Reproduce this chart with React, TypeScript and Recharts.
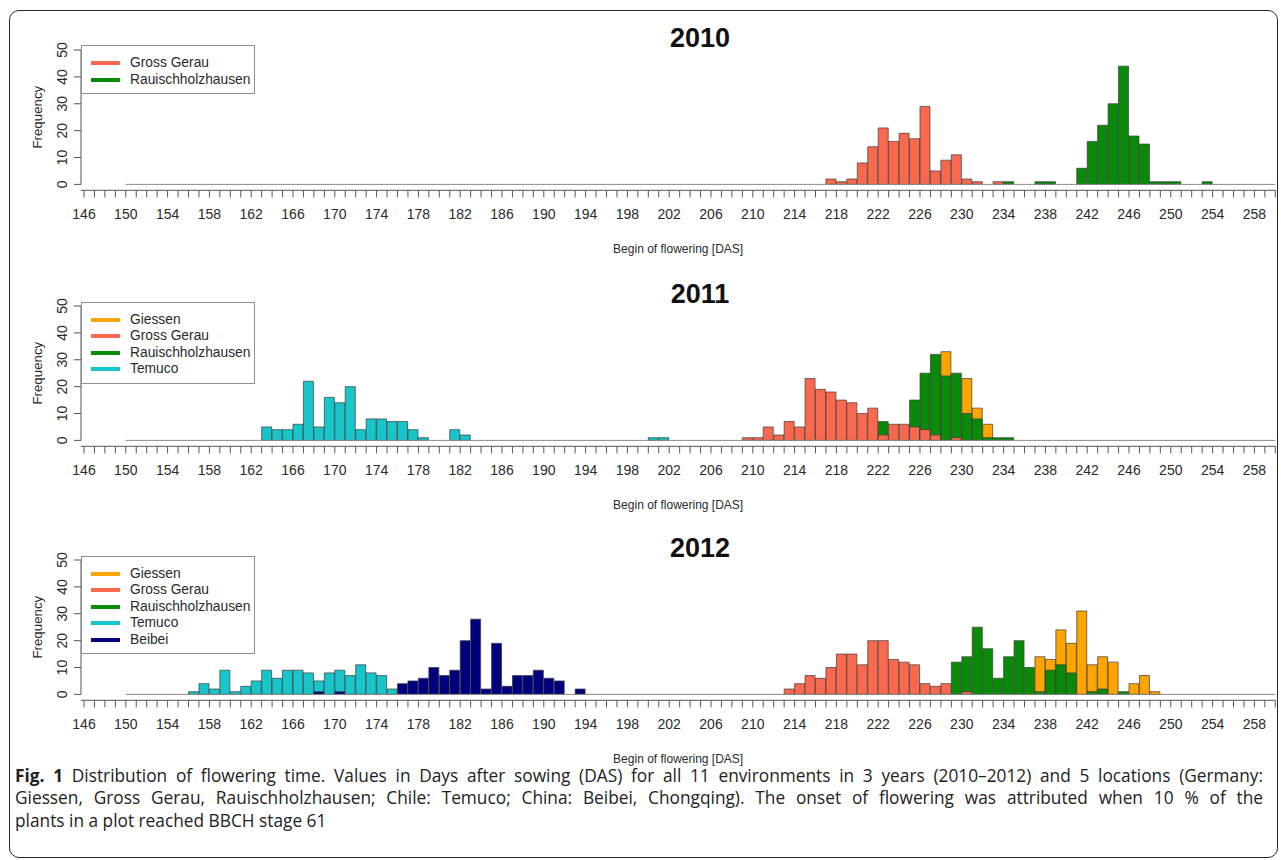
import React from 'react';
import { ComposedChart, Bar, XAxis, YAxis, ReferenceLine, Label } from 'recharts';

// Each histogram bin is [first day of the bin, number of plots]
type Bin = [number, number];

// 2010
const grossGerau2010: Bin[] = [[217, 2], [218, 1], [219, 2], [220, 8], [221, 14], [222, 21], [223, 16], [224, 19], [225, 17], [226, 29], [227, 5], [228, 9], [229, 11], [230, 2], [231, 1], [233, 1]];
const rauisch2010: Bin[] = [[234, 1], [237, 1], [238, 1], [241, 6], [242, 16], [243, 22], [244, 30], [245, 44], [246, 18], [247, 15], [248, 1], [249, 1], [250, 1], [253, 1]];

// 2011
const giessen2011: Bin[] = [[228, 33], [230, 23], [231, 12], [232, 6]];
const rauisch2011: Bin[] = [[222, 7], [225, 15], [226, 25], [227, 32], [228, 24], [229, 25], [230, 10], [231, 8], [232, 1], [233, 1], [234, 1]];
const grossGerau2011: Bin[] = [[209, 1], [210, 1], [211, 5], [212, 2], [213, 7], [214, 5], [215, 23], [216, 19], [217, 18], [218, 15], [219, 14], [220, 10], [221, 12], [222, 2], [223, 6], [224, 6], [225, 5], [226, 4], [227, 2], [229, 1]];
const temuco2011: Bin[] = [[163, 5], [164, 4], [165, 4], [166, 6], [167, 22], [168, 5], [169, 16], [170, 14], [171, 20], [172, 4], [173, 8], [174, 8], [175, 7], [176, 7], [177, 4], [178, 1], [181, 4], [182, 2], [200, 1], [201, 1]];

// 2012
const giessen2012: Bin[] = [[237, 14], [238, 13], [239, 24], [240, 19], [241, 31], [242, 11], [243, 14], [244, 12], [246, 4], [247, 7], [248, 1]];
const rauisch2012: Bin[] = [[229, 12], [230, 14], [231, 25], [232, 17], [233, 6], [234, 14], [235, 20], [236, 10], [237, 1], [238, 9], [239, 11], [240, 8], [242, 1], [243, 2], [245, 1]];
const grossGerau2012: Bin[] = [[213, 2], [214, 4], [215, 7], [216, 6], [217, 10], [218, 15], [219, 15], [220, 11], [221, 20], [222, 20], [223, 13], [224, 12], [225, 11], [226, 4], [227, 3], [228, 4], [230, 1]];
const temuco2012: Bin[] = [[156, 1], [157, 4], [158, 2], [159, 9], [160, 1], [161, 3], [162, 5], [163, 9], [164, 6], [165, 9], [166, 9], [167, 8], [168, 5], [169, 8], [170, 9], [171, 7], [172, 11], [173, 8], [174, 7], [175, 2]];
const beibei2012: Bin[] = [[168, 1], [170, 1], [176, 4], [177, 5], [178, 6], [179, 10], [180, 7], [181, 9], [182, 20], [183, 28], [184, 2], [185, 19], [186, 3], [187, 7], [188, 7], [189, 9], [190, 6], [191, 5], [193, 2]];

// Histogram breaks and axes
const FIRST_BIN = 150;
const LAST_BIN = 259;
const X_MIN = 145.713;
const X_MAX = 260;
const dayTicks: number[] = [];
for (let d = 146; d <= 260; d++) dayTicks.push(d);
const freqTicks = [0, 10, 20, 30, 40, 50];

type Loc = { key: string; name: string; color: string };
const GIESSEN: Loc = { key: 'giessen', name: 'Giessen', color: '#FFA500' };
const GROSS_GERAU: Loc = { key: 'grossGerau', name: 'Gross Gerau', color: '#FA694D' };
const RAUISCH: Loc = { key: 'rauisch', name: 'Rauischholzhausen', color: '#098B09' };
const TEMUCO: Loc = { key: 'temuco', name: 'Temuco', color: '#17C6CA' };
const BEIBEI: Loc = { key: 'beibei', name: 'Beibei', color: '#00007F' };

type Series = { loc: Loc; bins: Bin[] };
type PanelSpec = {
  year: string;
  plotTop: number;
  draw: Series[]; // drawing order (later ones on top)
  legend: Loc[];
};

const panels: PanelSpec[] = [
  {
    year: '2010',
    plotTop: 49.5,
    draw: [
      { loc: RAUISCH, bins: rauisch2010 },
      { loc: GROSS_GERAU, bins: grossGerau2010 },
    ],
    legend: [GROSS_GERAU, RAUISCH],
  },
  {
    year: '2011',
    plotTop: 306,
    draw: [
      { loc: GIESSEN, bins: giessen2011 },
      { loc: RAUISCH, bins: rauisch2011 },
      { loc: GROSS_GERAU, bins: grossGerau2011 },
      { loc: TEMUCO, bins: temuco2011 },
    ],
    legend: [GIESSEN, GROSS_GERAU, RAUISCH, TEMUCO],
  },
  {
    year: '2012',
    plotTop: 560,
    draw: [
      { loc: GIESSEN, bins: giessen2012 },
      { loc: RAUISCH, bins: rauisch2012 },
      { loc: GROSS_GERAU, bins: grossGerau2012 },
      { loc: TEMUCO, bins: temuco2012 },
      { loc: BEIBEI, bins: beibei2012 },
    ],
    legend: [GIESSEN, GROSS_GERAU, RAUISCH, TEMUCO, BEIBEI],
  },
];

const buildRows = (draw: Series[]) => {
  const rows: Record<string, number | null>[] = [];
  for (let d = FIRST_BIN; d <= LAST_BIN; d++) {
    const row: Record<string, number | null> = { x: d + 0.5 };
    draw.forEach(({ loc, bins }) => {
      const hit = bins.find((b) => b[0] === d);
      row[loc.key] = hit ? hit[1] : null;
    });
    rows.push(row);
  }
  return rows;
};

const AXIS_FONT = "'Liberation Sans', Arial, Helvetica, sans-serif";
const AXIS_GRAY = '#555';
const TEXT_GRAY = '#2a2a2a';

const DayTick = (props: any) => {
  const { x, y, payload } = props;
  const v = payload.value;
  if ((v - 146) % 4 !== 0 || v > 258) return <g />;
  return (
    <text x={x} y={y + 19.5} textAnchor="middle" fontSize={14} fontFamily={AXIS_FONT} fill={TEXT_GRAY}>
      {v}
    </text>
  );
};

const FreqTick = (props: any) => {
  const { x, y, payload } = props;
  const bx = x - 5;
  return (
    <text x={bx} y={y} transform={`rotate(-90 ${bx} ${y})`} textAnchor="middle" fontSize={14} fontFamily={AXIS_FONT} fill={TEXT_GRAY}>
      {payload.value}
    </text>
  );
};

const renderXLabel = (props: any) => {
  const vb = props.viewBox;
  return (
    <text x={vb.x + vb.width / 2} y={vb.y + 62.5} textAnchor="middle" fontSize={12} fontFamily={AXIS_FONT} fill={TEXT_GRAY}>
      Begin of flowering [DAS]
    </text>
  );
};

const renderYLabel = (props: any) => {
  const vb = props.viewBox;
  const cx = vb.x + 21;
  const cy = vb.y + (vb.height - 6) / 2;
  return (
    <text x={cx} y={cy} transform={`rotate(-90 ${cx} ${cy})`} textAnchor="middle" fontSize={13.3} fontFamily={AXIS_FONT} fill={TEXT_GRAY}>
      Frequency
    </text>
  );
};

const CHART_H = 260;
const MARGIN_TOP = 40;
const PLOT_H = 140.3;
const XAXIS_H = 30;

const Panel = ({ spec }: { spec: PanelSpec }) => {
  const rows = buildRows(spec.draw);
  const chartTop = spec.plotTop - MARGIN_TOP;
  const legendTop = spec.plotTop - 4.5;
  const rowGap = 16.5;
  const legendH = 17 + rowGap * (spec.legend.length - 1) + 15.5;
  return (
    <>
      <div style={{ position: 'absolute', left: 0, top: chartTop, width: 1281, height: CHART_H }}>
        <ComposedChart
          width={1281}
          height={CHART_H}
          data={rows}
          margin={{ top: MARGIN_TOP, right: 5.7, bottom: CHART_H - MARGIN_TOP - PLOT_H - XAXIS_H, left: 21 }}
          barCategoryGap={0}
          barGap={0}
        >
          <XAxis
            xAxisId="_days"
            type="number"
            dataKey="x"
            domain={[X_MIN, X_MAX]}
            ticks={dayTicks}
            interval={0}
            tickSize={7}
            height={XAXIS_H}
            tick={DayTick}
            axisLine={{ stroke: AXIS_GRAY }}
            tickLine={{ stroke: AXIS_GRAY }}
            allowDataOverflow
          >
            <Label content={renderXLabel} />
          </XAxis>
          {spec.draw.map(({ loc }) => (
            <XAxis
              key={loc.key}
              xAxisId={loc.key}
              type="number"
              dataKey="x"
              domain={[X_MIN, X_MAX]}
              height={0}
              allowDataOverflow
              hide
            />
          ))}
          <YAxis
            type="number"
            domain={[-2.2, 50]}
            ticks={freqTicks}
            interval={0}
            tickSize={7}
            width={60}
            axisLine={false}
            tickLine={{ stroke: AXIS_GRAY }}
            tick={FreqTick}
            allowDataOverflow
          >
            <Label content={renderYLabel} />
          </YAxis>
          <ReferenceLine xAxisId="_days" segment={[{ x: FIRST_BIN, y: 0 }, { x: X_MAX, y: 0 }]} stroke="#8a8a8a" strokeWidth={1} />
          <ReferenceLine xAxisId="_days" segment={[{ x: X_MIN, y: 0 }, { x: X_MIN, y: 50 }]} stroke={AXIS_GRAY} strokeWidth={1} />
          {spec.draw.map(({ loc }) => (
            <Bar
              key={loc.key}
              xAxisId={loc.key}
              dataKey={loc.key}
              fill={loc.color}
              stroke="#3a3a3a"
              strokeWidth={0.7}
              isAnimationActive={false}
            />
          ))}
        </ComposedChart>
      </div>
      <div
        style={{
          position: 'absolute',
          left: 700,
          top: spec.plotTop - 12,
          transform: 'translate(-50%, -50%)',
          fontFamily: AXIS_FONT,
          fontWeight: 'bold',
          fontSize: 27,
          lineHeight: '27px',
          color: '#111',
        }}
      >
        {spec.year}
      </div>
      <div
        style={{
          position: 'absolute',
          left: 81,
          top: legendTop,
          width: 174,
          height: legendH,
          border: '1px solid #8f8f8f',
          boxSizing: 'border-box',
          background: '#fff',
        }}
      >
        {spec.legend.map((loc, i) => (
          <div key={loc.key} style={{ position: 'absolute', left: 0, top: 17 + i * rowGap - 8, height: 16, width: 172 }}>
            <div style={{ position: 'absolute', left: 9, top: 6, width: 29, height: 4, background: loc.color }} />
            <div
              style={{
                position: 'absolute',
                left: 48,
                top: 0,
                fontFamily: AXIS_FONT,
                fontSize: 13.8,
                lineHeight: '16px',
                color: TEXT_GRAY,
                whiteSpace: 'nowrap',
              }}
            >
              {loc.name}
            </div>
          </div>
        ))}
      </div>
    </>
  );
};

const captionLines = [
  'Distribution of flowering time. Values in Days after sowing (DAS) for all 11 environments in 3 years (2010–2012) and 5 locations (Germany:',
  'Giessen, Gross Gerau, Rauischholzhausen; Chile: Temuco; China: Beibei, Chongqing). The onset of flowering was attributed when 10 % of the',
  'plants in a plot reached BBCH stage 61',
];

export default function App() {
  const captionStyle: React.CSSProperties = {
    position: 'absolute',
    left: 15,
    width: 1248,
    fontFamily: "'Open Sans', 'Noto Sans', sans-serif",
    fontSize: 17.3,
    lineHeight: '19px',
    color: '#222',
    whiteSpace: 'nowrap',
  };
  return (
    <div style={{ position: 'absolute', left: 0, top: 0, width: 1281, height: 860, background: '#fff', overflow: 'hidden' }}>
      <div
        style={{
          position: 'absolute',
          left: 9,
          top: 10,
          width: 1269,
          height: 848,
          border: '1.5px solid #262626',
          borderRadius: 10,
          boxSizing: 'border-box',
        }}
      />
      {panels.map((p) => (
        <Panel key={p.year} spec={p} />
      ))}
      <div style={{ ...captionStyle, top: 766, textAlign: 'justify', textAlignLast: 'justify' }}>
        <b>Fig. 1</b> {captionLines[0]}
      </div>
      <div style={{ ...captionStyle, top: 788, textAlign: 'justify', textAlignLast: 'justify' }}>{captionLines[1]}</div>
      <div style={{ ...captionStyle, top: 810.5 }}>{captionLines[2]}</div>
    </div>
  );
}
